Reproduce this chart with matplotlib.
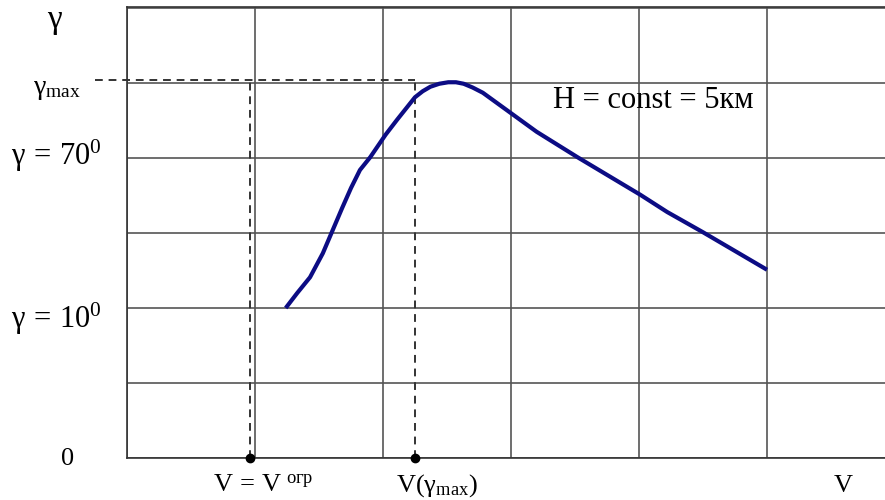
import matplotlib
matplotlib.use('Agg')
import matplotlib.pyplot as plt

plt.rcParams['font.family'] = ['Liberation Serif', 'DejaVu Serif']
plt.rcParams['mathtext.fontset'] = 'custom'
plt.rcParams['mathtext.rm'] = 'Liberation Serif'
plt.rcParams['mathtext.it'] = 'Liberation Serif'

# curve gamma(V), in grid cell units
v = [1.24, 1.33, 1.43, 1.53, 1.60, 1.68, 1.75, 1.82, 1.90, 2.02, 2.11,
     2.25, 2.31, 2.37, 2.44, 2.51, 2.57, 2.63, 2.70, 2.78, 2.99, 3.20,
     3.52, 4.01, 4.22, 4.50, 5.00]
gamma = [2.00, 2.20, 2.41, 2.73, 3.01, 3.33, 3.60, 3.84, 4.01, 4.31, 4.51,
         4.81, 4.89, 4.95, 4.99, 5.01, 5.01, 4.99, 4.94, 4.87, 4.61, 4.35,
         4.01, 3.51, 3.28, 3.01, 2.51]

v_lim = 0.96      # V = V огр
v_gmax = 2.25     # V(gamma_max)
gamma_max = 5.04

fig = plt.figure(figsize=(8.85, 5.0), dpi=100)
ax = fig.add_axes([127 / 885, 1 - 458 / 500, 1 - 127 / 885, 451 / 500])
ax.set_xlim(0, 758 / 128)
ax.set_ylim(0, 451 / 75)

ax.set_xticks(range(0, 6))
ax.set_yticks(range(0, 7))
ax.tick_params(length=0, labelbottom=False, labelleft=False)
ax.grid(True, color='#555555', linewidth=1.2)
for side in ['left', 'bottom', 'top']:
    ax.spines[side].set_color('#333333')
    ax.spines[side].set_linewidth(1.2)
ax.spines['right'].set_visible(False)

ax.plot(v, gamma, color='#0c0c84', linewidth=3.0, solid_joinstyle='round',
        solid_capstyle='butt', zorder=5)

dash = dict(color='#333333', linewidth=1.4, linestyle=(0, (4, 3)), clip_on=False, zorder=4)
ax.plot([-0.25, v_gmax], [gamma_max, gamma_max], **dash)
ax.plot([v_lim, v_lim], [0, gamma_max], **dash)
ax.plot([v_gmax, v_gmax], [0, gamma_max], **dash)
ax.plot([v_lim, v_gmax], [0, 0], 'o', color='black', markersize=6, clip_on=False, zorder=6)


def px(x, y):
    return (x - 127) / 128, (458 - y) / 75


kw = dict(clip_on=False, color='black')
ax.text(*px(55, 28), r'$\mathrm{\gamma}$', fontsize=24, ha='center', va='baseline', **kw)
ax.text(*px(33, 94), r'$\mathrm{\gamma_{max}}$', fontsize=20, ha='left', va='baseline', **kw)
ax.text(*px(11, 165), r'$\mathrm{\gamma\,=\,70^0}$', fontsize=22, ha='left', va='baseline', **kw)
ax.text(*px(11, 328), r'$\mathrm{\gamma\,=\,10^0}$', fontsize=22, ha='left', va='baseline', **kw)
ax.text(*px(68, 465), '0', fontsize=19, ha='center', va='baseline', **kw)
ax.text(*px(213, 492), r'$\mathrm{V\,=\,V^{\ огр}}$', fontsize=19, ha='left', va='baseline', **kw)
ax.text(*px(396, 492), r'$\mathrm{V(\gamma_{max})}$', fontsize=19, ha='left', va='baseline', **kw)
ax.text(*px(843, 492), 'V', fontsize=19, ha='center', va='baseline', **kw)
ax.text(*px(553, 108), 'H = const = 5км', fontsize=22, ha='left', va='baseline', **kw)

fig.savefig('out.png', dpi=100)
